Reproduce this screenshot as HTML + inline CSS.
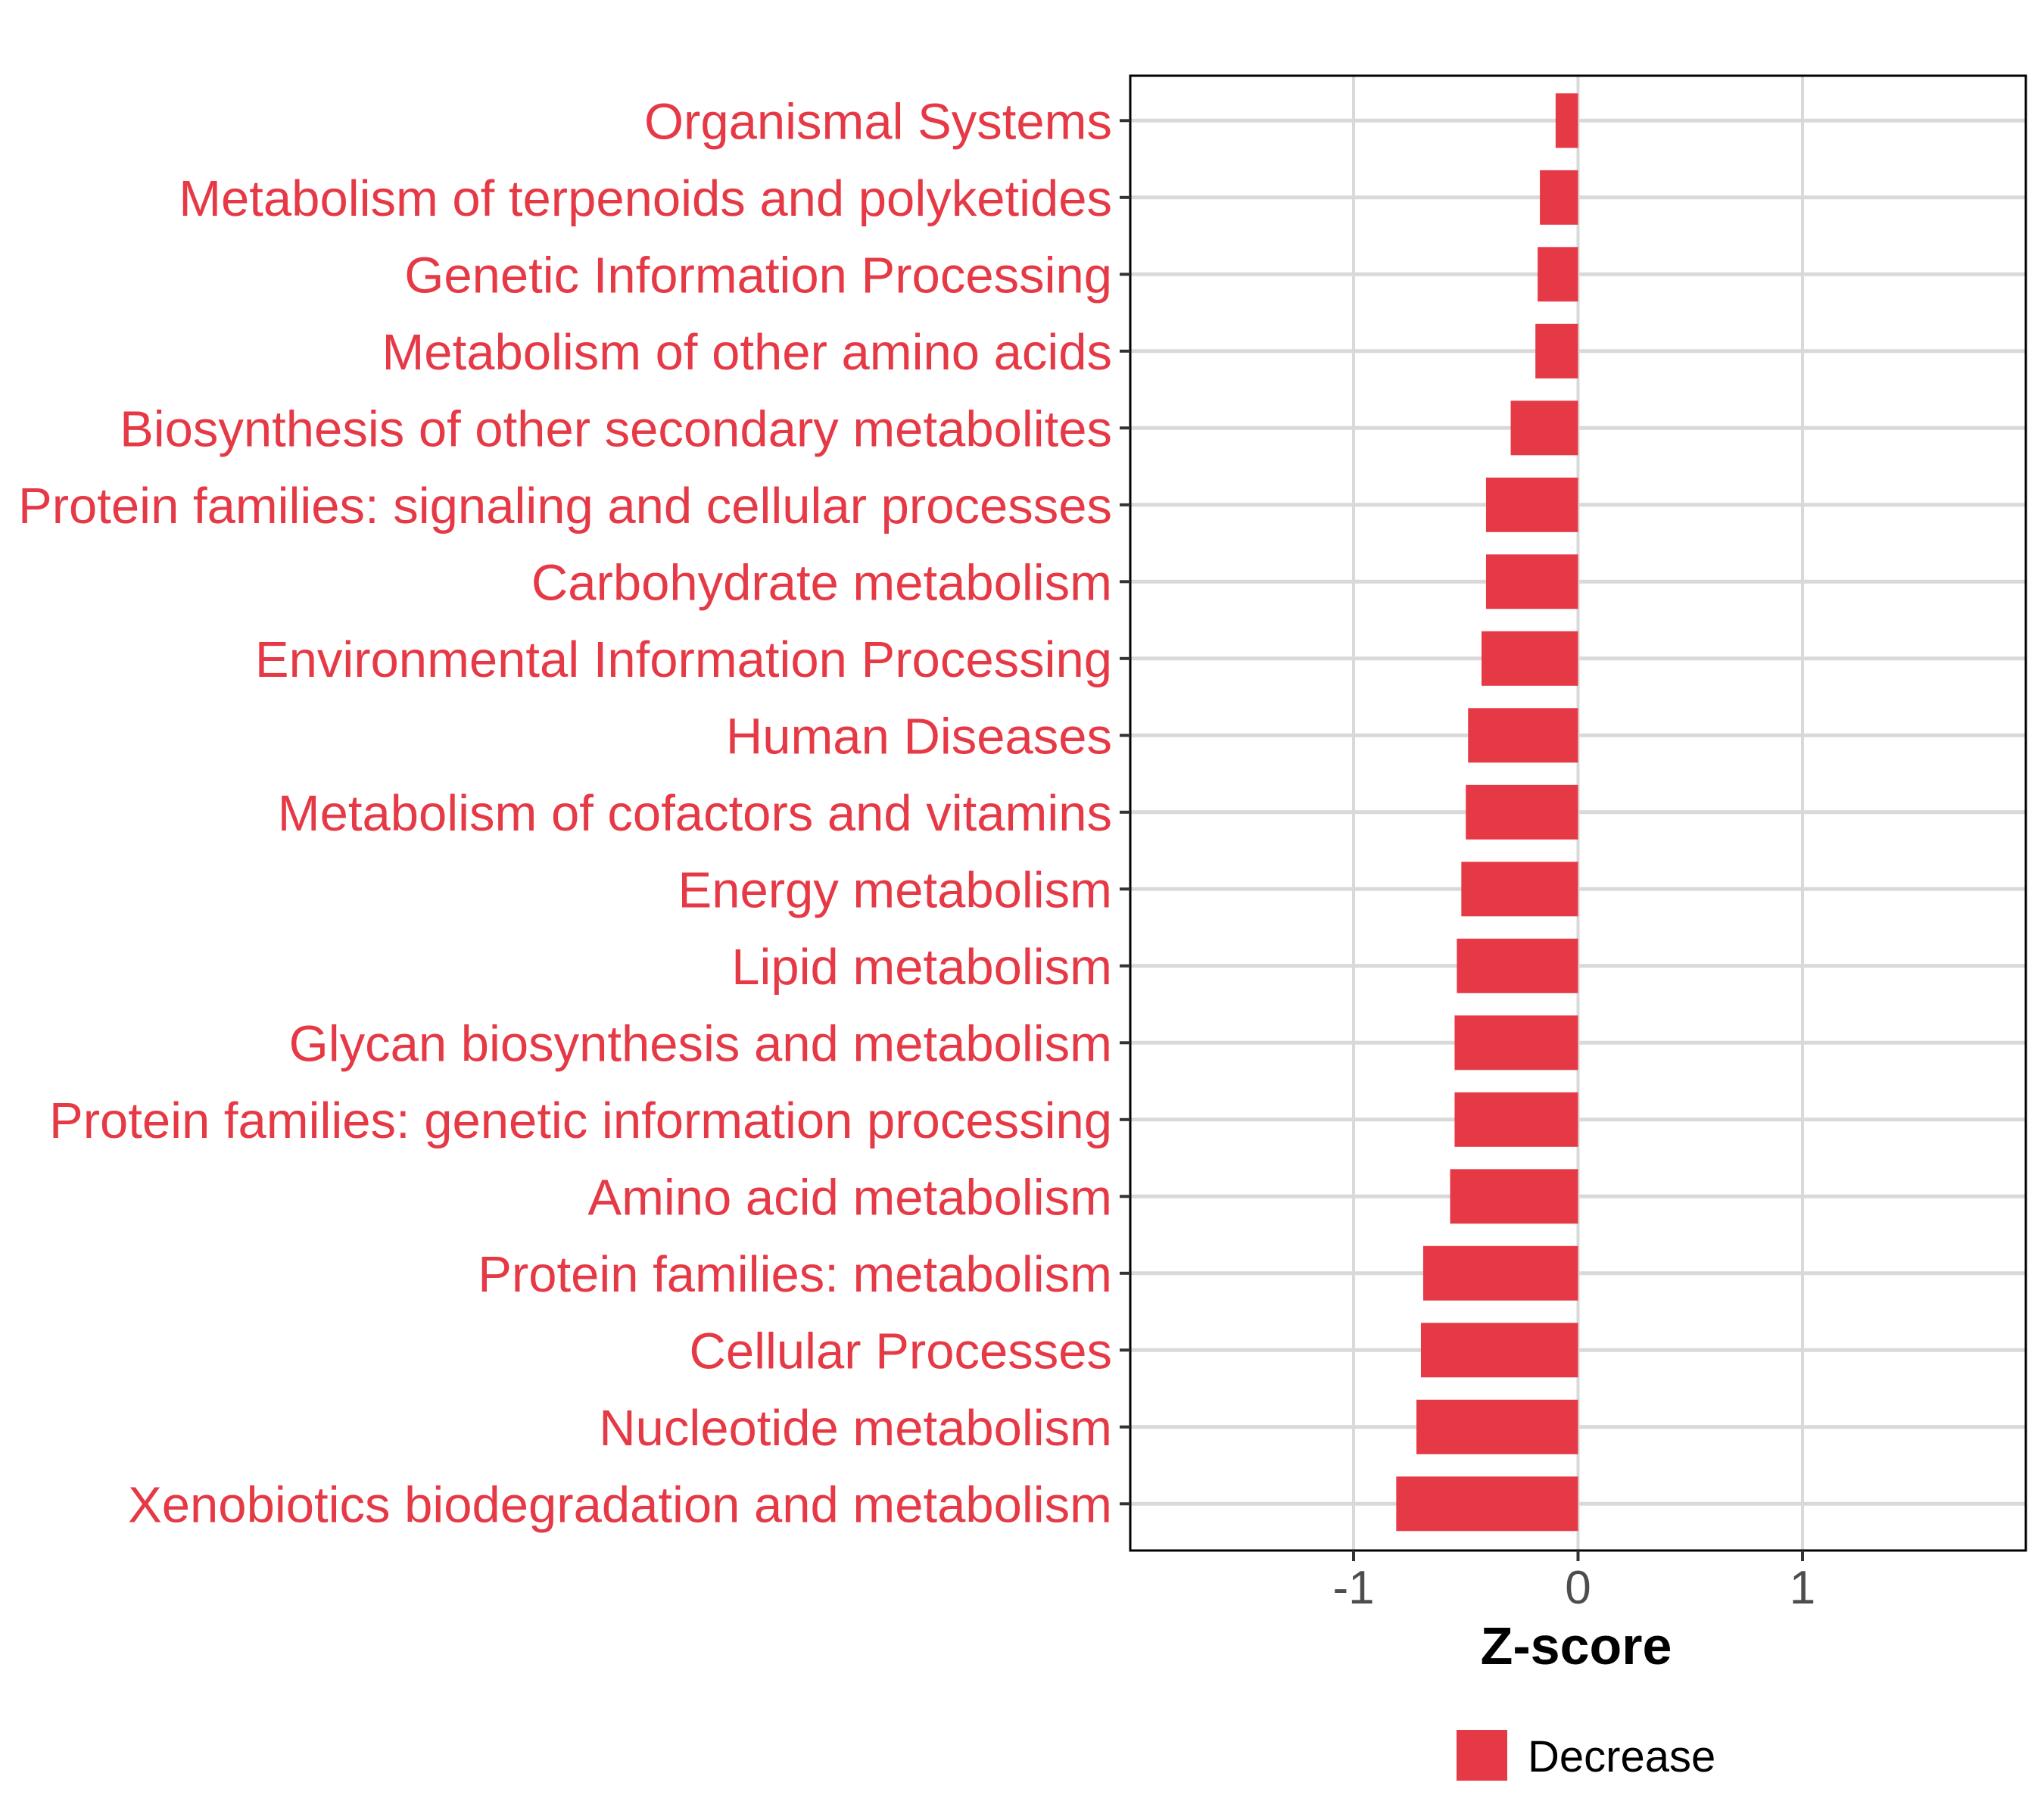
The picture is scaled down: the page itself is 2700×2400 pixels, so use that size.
<!DOCTYPE html>
<html><head><meta charset="utf-8"><style>
html,body{margin:0;padding:0;background:#fff;}
svg{display:block;font-family:"Liberation Sans",Arial,sans-serif;}
</style></head><body>
<svg id="chart" width="2700" height="2400" viewBox="0 0 2700 2400" xmlns="http://www.w3.org/2000/svg">
<rect x="0" y="0" width="2700" height="2400" fill="#fff"/>
<g id="grid"></g>
<g id="bars"></g>
<rect x="1493" y="100" width="1183" height="1948" fill="none" stroke="#000" stroke-width="3"/>
<g id="yaxis"></g>
<g id="xaxis"></g>
<text x="2082" y="2198" text-anchor="middle" font-size="70" font-weight="bold" fill="#000">Z-score</text>
<g>
<rect x="1924" y="2285" width="67" height="67" fill="#E63946"/>
<text x="2018" y="2340" font-size="58" fill="#000">Decrease</text>
</g>
</svg>
<script>
const categories = ["Organismal Systems","Metabolism of terpenoids and polyketides","Genetic Information Processing","Metabolism of other amino acids","Biosynthesis of other secondary metabolites","Protein families: signaling and cellular processes","Carbohydrate metabolism","Environmental Information Processing","Human Diseases","Metabolism of cofactors and vitamins","Energy metabolism","Lipid metabolism","Glycan biosynthesis and metabolism","Protein families: genetic information processing","Amino acid metabolism","Protein families: metabolism","Cellular Processes","Nucleotide metabolism","Xenobiotics biodegradation and metabolism"];
const values = [-0.10,-0.17,-0.18,-0.19,-0.30,-0.41,-0.41,-0.43,-0.49,-0.50,-0.52,-0.54,-0.55,-0.55,-0.57,-0.69,-0.70,-0.72,-0.81];
const xTicks = [-1,0,1];
const xTickLabels = ["-1","0","1"];

const NS = "http://www.w3.org/2000/svg";
const PL = 1493, PR = 2676, PT = 100, PB = 2048;
const XMIN = -1.995, XMAX = 1.995;
function xs(v){ return PL + (v - XMIN) / (XMAX - XMIN) * (PR - PL); }
const rowStep = 101.5, firstY = 159.3;
function ys(i){ return firstY + i * rowStep; }
const barH = 72;
function mk(tag, attrs, parent){ const e = document.createElementNS(NS, tag); for (const k in attrs) e.setAttribute(k, attrs[k]); parent.appendChild(e); return e; }

const grid = document.getElementById('grid');
const bars = document.getElementById('bars');
const yaxis = document.getElementById('yaxis');
const xaxis = document.getElementById('xaxis');

xTicks.forEach((t, i) => {
  const l = mk('line', {x1: xs(t), x2: xs(t), y1: PT, y2: PB, stroke: '#d9d9d9', 'stroke-width': 4}, grid);
  
  
  const tk = mk('line', {x1: xs(t), x2: xs(t), y1: PB, y2: PB + 14, stroke: '#333', 'stroke-width': 4}, xaxis);
  
  
  const tx = mk('text', {x: xs(t), y: 2118, 'text-anchor': 'middle', 'font-size': 62, fill: '#4d4d4d'}, xaxis);
  tx.textContent = xTickLabels[i];
  
  
});

categories.forEach((c, i) => {
  const y = ys(i);
  const g = mk('line', {x1: PL, x2: PR, y1: y, y2: y, stroke: '#d9d9d9', 'stroke-width': 5}, grid);
  
  
  const v = values[i];
  const b = mk('rect', {x: Math.min(xs(v), xs(0)), y: y - barH / 2, width: Math.abs(xs(v) - xs(0)), height: barH, fill: '#E63946'}, bars);
  
  
  const tk = mk('line', {x1: PL - 14, x2: PL, y1: y, y2: y, stroke: '#333', 'stroke-width': 4}, yaxis);
  
  
  const t = mk('text', {x: 1469, y: y + 24, 'text-anchor': 'end', 'font-size': 67, fill: '#E63946'}, yaxis);
  t.textContent = c;
  
  
});
</script>
</body></html>
